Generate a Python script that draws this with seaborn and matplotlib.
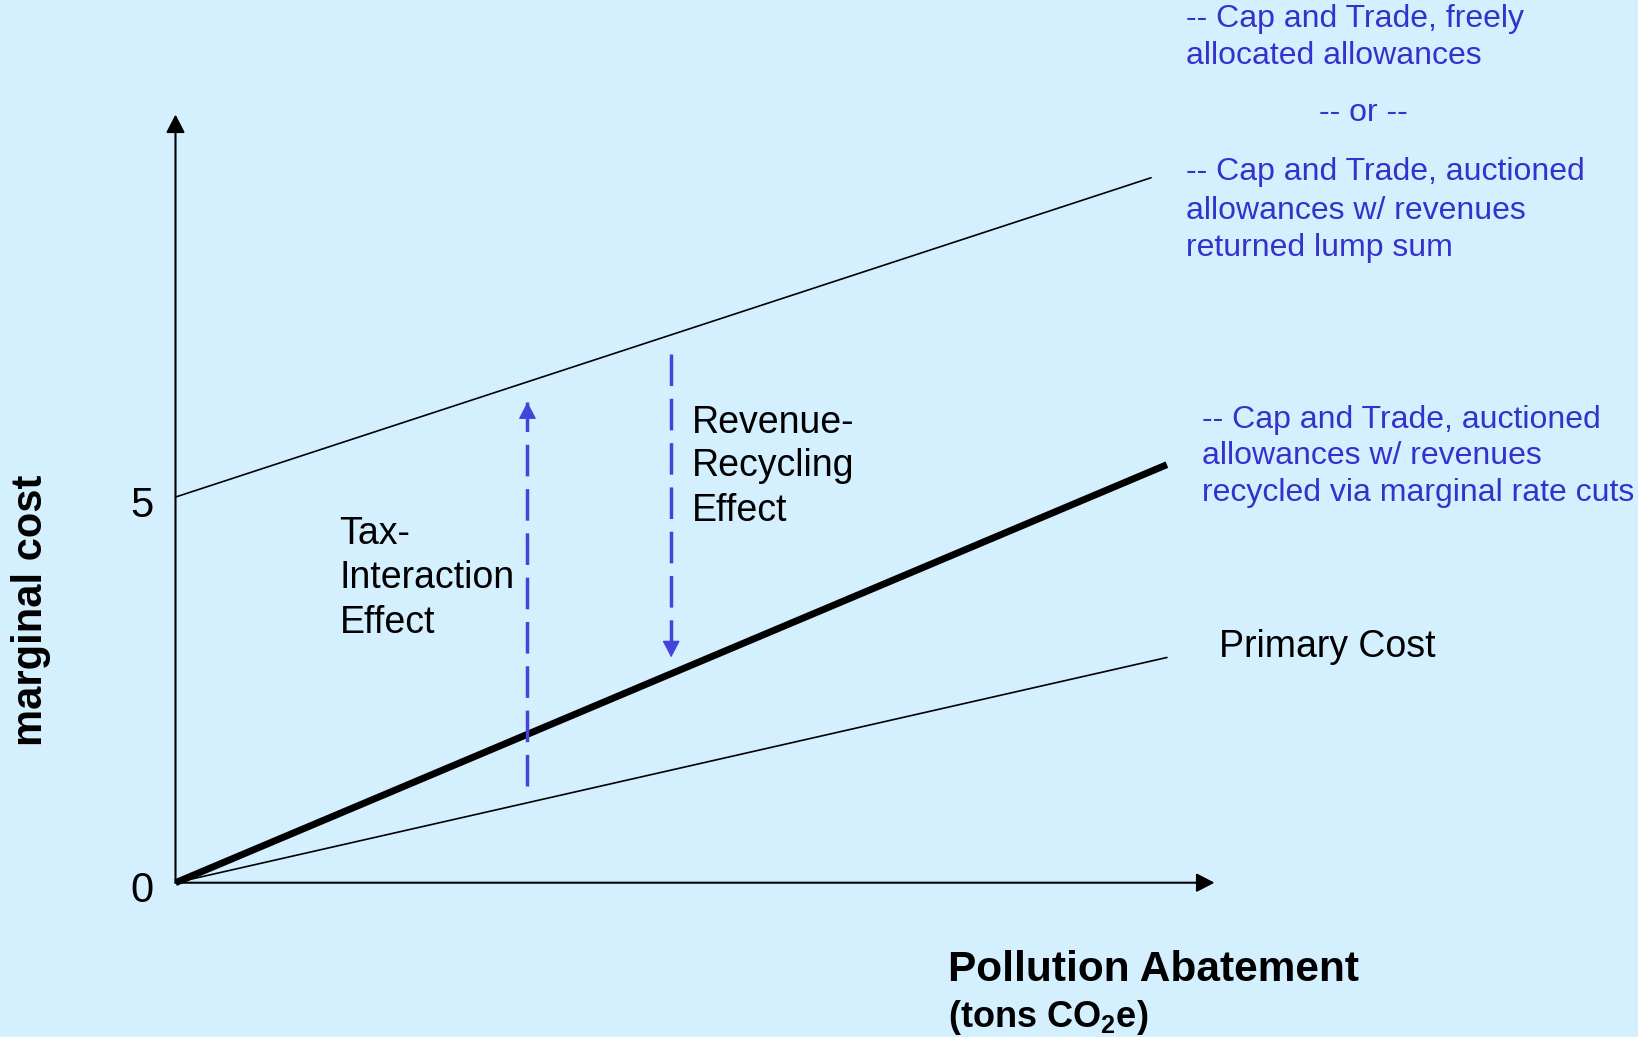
import matplotlib
matplotlib.use("Agg")
import matplotlib.pyplot as plt
import matplotlib.transforms as mtransforms
import seaborn as sns

# Marginal-cost schedules against pollution abatement
abatement = [0.0, 10.0]
primary_cost = [0.0, 2.92]
recycled_cost = [0.0, 5.42]        # auctioned, revenues recycled via marginal rate cuts
lump_sum_abatement = [0.0, 9.84]
lump_sum_cost = [5.0, 9.14]        # freely allocated, or auctioned with lump-sum return

# Effect arrows: (abatement position, start cost, end cost)
tax_interaction = (3.55, 1.25, 6.23)
revenue_recycling = (5.0, 6.86, 2.92)

y_ticks = [0, 5]
y_tick_labels = ["0", "5"]
axis_extent = (10.48, 9.96)

lump_sum_lines = ["-- Cap and Trade, freely", "allocated allowances"]
or_line = "-- or --"
auction_lines = ["-- Cap and Trade, auctioned", "allowances w/ revenues", "returned lump sum"]
recycled_lines = ["-- Cap and Trade, auctioned", "allowances w/ revenues",
                  "recycled via marginal rate cuts"]
tax_lines = ["Tax-", "Interaction", "Effect"]
revenue_lines = ["Revenue-", "Recycling", "Effect"]
primary_label = "Primary Cost"
x_title = "Pollution Abatement"
x_units = r"(tons CO$_\mathbf{2}$e)"
y_title = "marginal cost"

BG = "#D4F0FF"
BLUE_TEXT = "#3333CC"
BLUE_ARROW = "#4444DD"

sns.set_theme(style="white")
plt.rcParams["font.family"] = ["Liberation Sans", "DejaVu Sans"]
plt.rcParams["mathtext.fontset"] = "custom"
plt.rcParams["mathtext.rm"] = "Liberation Sans"
plt.rcParams["mathtext.bf"] = "Liberation Sans:bold"

W, H = 1638, 1037
fig = plt.figure(figsize=(W / 100, H / 100), dpi=100, facecolor=BG)

# axes box in pixel terms: origin and arrow tips
ox, oy = 175.5, 882.7
tx, ty = 1214.5, 114.5
ax = fig.add_axes([ox / W, 1 - oy / H, (tx - ox) / W, (oy - ty) / H])
ax.set_facecolor(BG)
ax.set_xlim(0, axis_extent[0])
ax.set_ylim(0, axis_extent[1])
for spine in ax.spines.values():
    spine.set_visible(False)

# cost schedules
sns.lineplot(x=abatement, y=primary_cost, ax=ax, color="black", linewidth=1.2,
             estimator=None, sort=False, clip_on=False)
sns.lineplot(x=lump_sum_abatement, y=lump_sum_cost, ax=ax, color="black", linewidth=1.2,
             estimator=None, sort=False, clip_on=False)
sns.lineplot(x=abatement, y=recycled_cost, ax=ax, color="black", linewidth=5,
             estimator=None, sort=False, clip_on=False, solid_capstyle="butt")

# axes drawn as arrows
axis_arrow = dict(arrowstyle="-|>,head_length=11,head_width=5.7", mutation_scale=1,
                  color="black", lw=1.5, shrinkA=0, shrinkB=0)
ax.annotate("", xy=(axis_extent[0], 0), xytext=(0, 0), arrowprops=axis_arrow,
            annotation_clip=False)
ax.annotate("", xy=(0, axis_extent[1]), xytext=(0, 0), arrowprops=axis_arrow,
            annotation_clip=False)


def effect_arrow(x, y_start, y_end):
    ax.plot([x, x], [y_start, y_end], color=BLUE_ARROW, linewidth=2.5,
            linestyle=(0, (9.1, 3.66)), clip_on=False)
    step = 0.25 if y_end > y_start else -0.25
    ax.annotate("", xy=(x, y_end), xytext=(x, y_end - step),
                arrowprops=dict(arrowstyle="-|>,head_length=10.5,head_width=5.5",
                                mutation_scale=1, color=BLUE_ARROW, lw=1,
                                shrinkA=0, shrinkB=0),
                annotation_clip=False)


effect_arrow(*tax_interaction)
effect_arrow(*revenue_recycling)

# axis ticks and label
ax.set_xticks([])
ax.set_yticks(y_ticks, y_tick_labels)
ax.tick_params(axis="y", length=0, pad=15.6, labelsize=30, labelcolor="black")
shift_down = mtransforms.ScaledTranslation(0, -4 / 100, fig.dpi_scale_trans)
for lab in ax.get_yticklabels():
    lab.set_transform(lab.get_transform() + shift_down)
ax.set_ylabel(y_title, fontsize=30, fontweight="bold", color="black")
ax.yaxis.set_label_coords(-0.1201, 0.3543)


def px(x, y):
    return x / W, 1 - y / H


def text_lines(lines, left, baselines, **kw):
    for s, b in zip(lines, baselines):
        fig.text(*px(left, b), s, ha="left", va="baseline", **kw)


blue = dict(color=BLUE_TEXT, fontsize=23)
black = dict(color="black", fontsize=27)

text_lines(lump_sum_lines, 1186, [26.7, 64.0], **blue)
fig.text(*px(1363.7, 120.7), or_line, ha="center", va="baseline", **blue)
text_lines(auction_lines, 1186, [180.0, 219.0, 256.0], **blue)
text_lines(recycled_lines, 1202.3, [428.3, 464.3, 501.0], **blue)

text_lines(tax_lines, 339.6, [544.0, 588.3, 632.7], **black)
text_lines(revenue_lines, 691.4, [432.7, 476.0, 520.7], **black)
text_lines([primary_label], 1219.4, [656.7], **black)

text_lines([x_title], 947.7, [981.0], color="black", fontsize=30.5, fontweight="bold")
text_lines([x_units], 947.7, [1026.7], color="black", fontsize=26, fontweight="bold")

fig.savefig("out.png", dpi=100, facecolor=BG)
